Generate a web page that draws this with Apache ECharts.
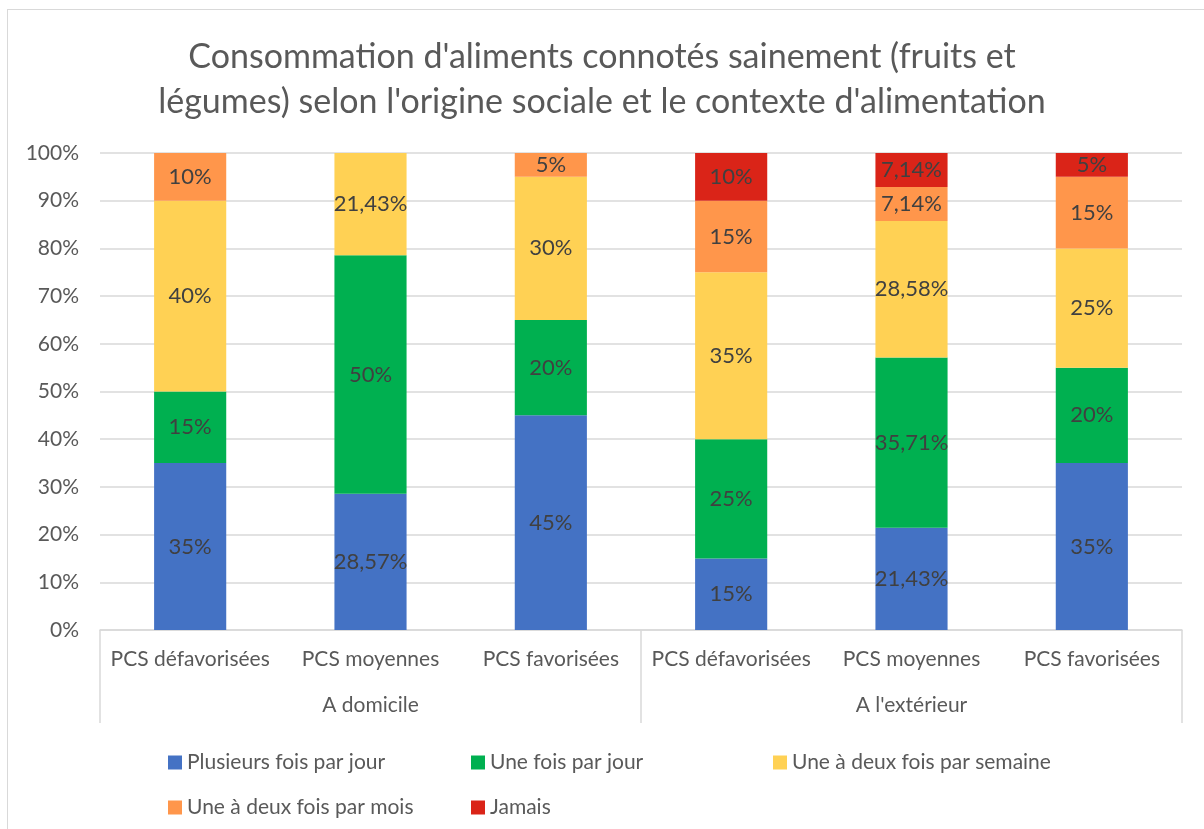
<!DOCTYPE html>
<html>
<head>
<meta charset="utf-8">
<script src="https://cdn.jsdelivr.net/npm/echarts@6/dist/echarts.min.js"></script>
<style>
  html, body { margin: 0; padding: 0; background: #fff; }
  .frame {
    position: absolute; left: 7px; top: 9px; width: 1300px; height: 900px;
    border: 1px solid #d9d9d9; box-sizing: border-box;
  }
  #chart { position: absolute; left: 0; top: 0; width: 1204px; height: 829px; }
</style>
</head>
<body>
<div class="frame"></div>
<div id="chart"></div>
<script>
  // categories (two levels)
  const classes = ['PCS défavorisées', 'PCS moyennes', 'PCS favorisées',
                   'PCS défavorisées', 'PCS moyennes', 'PCS favorisées']
  const contexts = ['A domicile', "A l'extérieur"]

  // series values (%)
  const plusieursParJour = [35, 28.57, 45, 15, 21.43, 35]
  const uneParJour = [15, 50, 20, 25, 35.71, 20]
  const parSemaine = [40, 21.43, 30, 35, 28.58, 25]
  const parMois = [10, 0, 5, 15, 7.14, 15]
  const jamais = [0, 0, 0, 10, 7.14, 5]

  const seriesList = [
    { name: 'Plusieurs fois par jour', data: plusieursParJour, color: '#4472c4' },
    { name: 'Une fois par jour', data: uneParJour, color: '#00b050' },
    { name: 'Une à deux fois par semaine', data: parSemaine, color: '#ffd154' },
    { name: 'Une à deux fois par mois', data: parMois, color: '#ff964b' },
    { name: 'Jamais', data: jamais, color: '#da2418' }
  ]

  const font = 'Lato'
  const textColor = '#595959'
  const lineColor = '#d9d9d9'

  const legendPos = [[163, 747], [466, 747], [768, 747], [163, 792], [466, 792]]

  let chart = echarts.init(document.getElementById('chart'))
  let options = {
    animation: false,
    textStyle: { fontFamily: font },
    title: {
      text: "Consommation d'aliments connotés sainement (fruits et\nlégumes) selon l'origine sociale et le contexte d'alimentation",
      left: 'center',
      top: 30,
      textStyle: {
        fontFamily: font,
        fontSize: 34,
        fontWeight: 'normal',
        color: textColor,
        lineHeight: 45
      }
    },
    legend: seriesList.map((s, i) => ({
      data: [s.name],
      left: legendPos[i][0],
      top: legendPos[i][1],
      itemWidth: 14,
      itemHeight: 14,
      itemGap: 6,
      icon: 'rect',
      textStyle: { fontFamily: font, fontSize: 21, color: textColor }
    })),
    grid: {
      left: 100,
      right: 22,
      top: 153,
      bottom: 199,
      containLabel: false,
      outerBoundsMode: 'none'
    },
    xAxis: [{
      type: 'category',
      data: classes,
      position: 'bottom',
      axisLine: { lineStyle: { color: lineColor, width: 1.5 } },
      axisTick: { show: false },
      axisLabel: {
        margin: 19,
        fontFamily: font,
        fontSize: 21,
        color: textColor,
        interval: 0
      }
    }, {
      type: 'category',
      data: contexts,
      position: 'bottom',
      axisLine: { show: false },
      axisTick: {
        show: true,
        length: 93,
        lineStyle: { color: lineColor, width: 1.5 }
      },
      axisLabel: {
        margin: 65,
        fontFamily: font,
        fontSize: 21,
        color: textColor
      }
    }],
    yAxis: {
      type: 'value',
      min: 0,
      max: 100,
      interval: 10,
      axisLine: { show: false },
      axisTick: { show: false },
      axisLabel: {
        formatter: '{value}%',
        margin: 21,
        fontFamily: font,
        fontSize: 21,
        color: textColor
      },
      splitLine: { lineStyle: { color: lineColor, width: 1.5 } }
    },
    series: seriesList.map(s => ({
      name: s.name,
      type: 'bar',
      stack: 'total',
      data: s.data,
      barWidth: '40%',
      itemStyle: { color: s.color },
      label: {
        show: true,
        position: 'inside',
        fontFamily: font,
        fontSize: 22,
        color: '#404040',
        formatter: p => p.value ? String(p.value).replace('.', ',') + '%' : ''
      }
    }))
  }
  chart.setOption(options)
</script>
</body>
</html>
